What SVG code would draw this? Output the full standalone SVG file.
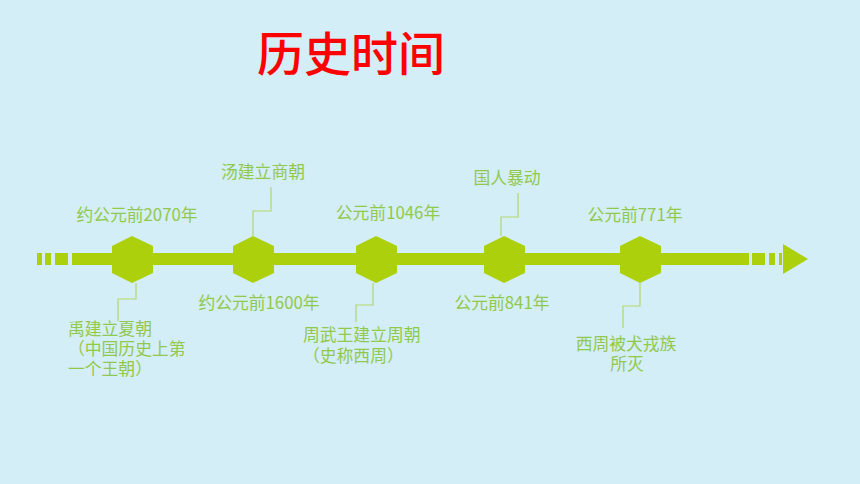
<svg xmlns="http://www.w3.org/2000/svg" width="860" height="484" viewBox="0 0 860 484">
<style>
.lbl{font-family:"Noto Sans CJK SC","Liberation Sans",sans-serif;font-size:16.8px;fill:#92c84c}
.mid{text-anchor:middle}
.hex{fill:#acd00b}
.bar{fill:#acd00b}
.con{fill:none;stroke:#b3d86c;stroke-width:1.2}
.title{font-family:"Noto Sans CJK SC",sans-serif;font-size:47px;font-weight:500;fill:#ff0000;text-anchor:middle}
</style>
<defs>
<polygon id="hx" points="0,-23 21,-13 21,14 0,24 -20,14 -20,-13"/>
</defs>
<rect width="860" height="484" fill="#d3eef6"/>
<text class="title" x="351" y="71">历史时间</text>
<g id="axis">
<rect class="bar" x="37" y="253" width="5" height="12"/>
<rect class="bar" x="45" y="253" width="6" height="12"/>
<rect class="bar" x="55" y="253" width="13" height="12"/>
<rect class="bar" x="72" y="253" width="677" height="12"/>
<rect class="bar" x="752" y="253" width="13" height="12"/>
<rect class="bar" x="769" y="253" width="6" height="12"/>
<rect class="bar" x="779" y="253" width="3" height="12"/>
<polygon class="bar" points="783,244 808,259 783,274"/>
</g>
<g id="connectors">
<polyline class="con" points="136,283 136,299 118,299 118,321"/>
<polyline class="con" points="253,236 253,211 271,211 271,187"/>
<polyline class="con" points="373,283 373,305 356,305 356,322"/>
<polyline class="con" points="501,236 501,217 518,217 518,193"/>
<polyline class="con" points="640,283 640,306 623,306 623,328"/>
</g>
<g id="node1">
<use href="#hx" class="hex" x="132" y="259"/>
<text class="lbl mid" x="137" y="221">约公元前2070年</text>
<text class="lbl" x="68" y="335">禹建立夏朝<tspan x="68" dy="20">（中国历史上第</tspan><tspan x="68" dy="20">一个王朝）</tspan></text>
</g>
<g id="node2">
<use href="#hx" class="hex" x="253" y="259"/>
<text class="lbl mid" x="263" y="178">汤建立商朝</text>
<text class="lbl mid" x="259" y="309">约公元前1600年</text>
</g>
<g id="node3">
<use href="#hx" class="hex" x="376" y="259"/>
<text class="lbl mid" x="388" y="219">公元前1046年</text>
<text class="lbl" x="303" y="341">周武王建立周朝<tspan x="303" dy="21">（史称西周）</tspan></text>
</g>
<g id="node4">
<use href="#hx" class="hex" x="504" y="259"/>
<text class="lbl mid" x="507" y="184">国人暴动</text>
<text class="lbl mid" x="502" y="309">公元前841年</text>
</g>
<g id="node5">
<use href="#hx" class="hex" x="640" y="259"/>
<text class="lbl mid" x="635" y="221">公元前771年</text>
<text class="lbl mid" x="626" y="350">西周被犬戎族<tspan x="627" dy="20">所灭</tspan></text>
</g>
</svg>
